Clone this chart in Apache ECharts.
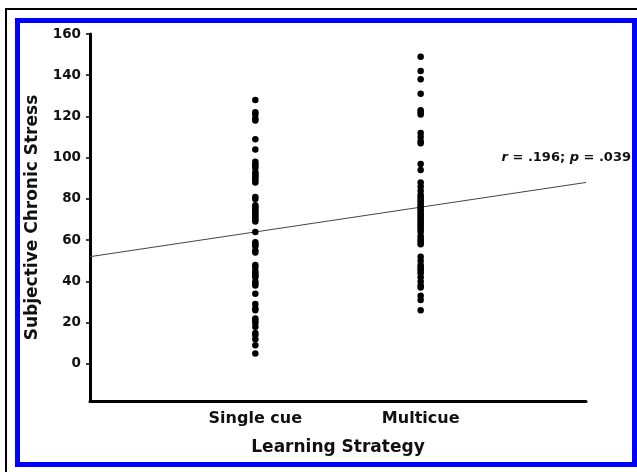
<!DOCTYPE html>
<html>
<head>
<meta charset="utf-8">
<script src="https://cdn.jsdelivr.net/npm/echarts@6/dist/echarts.min.js"></script>
<style>html,body{margin:0;padding:0;background:#fff;}#c{width:637px;height:472px;}</style>
</head>
<body>
<div id="c"></div>
<script>
var categories = ['Single cue', 'Multicue'];
var categoryPositions = [1, 2];
var yTicks = [0, 20, 40, 60, 80, 100, 120, 140, 160];
var singleCue = [128, 122, 121, 119, 118, 109, 104, 98, 97, 96, 95, 93, 92, 91, 90, 89, 88, 81, 80, 77, 76, 75, 74, 73, 72, 71, 70, 69, 64, 59, 58, 57, 55, 54, 48, 47, 45, 44, 43, 42, 40, 39, 38, 34, 29, 27, 26, 22, 21, 20, 18, 15, 14, 12, 9, 5];
var multicue = [149, 142, 138, 131, 123, 122, 121, 112, 110, 108, 107, 97, 94, 88, 86, 84, 82, 81, 80, 79, 78, 77, 76, 75, 74, 73, 72, 71, 70, 69, 68, 67, 66, 65, 64, 62, 61, 60, 59, 58, 52, 50, 48, 47, 46, 45, 44, 42, 40, 38, 37, 33, 31, 26];
var regressionX = [0, 3];
var regressionY = [52, 88];
var annotation = { r: '.196', p: '.039' };

var FONT = '"DejaVu Sans", sans-serif';
var scatterData = [];
singleCue.forEach(function (v) { scatterData.push([categoryPositions[0], v]); });
multicue.forEach(function (v) { scatterData.push([categoryPositions[1], v]); });
var lineData = regressionX.map(function (x, i) { return [x, regressionY[i]]; });

var chart = echarts.init(document.getElementById('c'), null, { renderer: 'canvas' });
chart.setOption({
  backgroundColor: '#ffffff',
  animation: false,
  grid: { left: 90, right: 51, top: 34, bottom: 71 },
  xAxis: {
    type: 'value', min: 0, max: 3,
    axisLine: { show: true, onZero: false, lineStyle: { color: '#000', width: 3 } },
    axisTick: { show: false },
    splitLine: { show: false },
    axisLabel: {
      customValues: categoryPositions,
      margin: 10,
      color: '#111', fontFamily: FONT, fontWeight: 'bold', fontSize: 16,
      formatter: function (v) { var i = categoryPositions.indexOf(v); return i >= 0 ? categories[i] : ''; }
    },
    name: 'Learning Strategy', nameLocation: 'middle', nameGap: 38,
    nameTextStyle: { color: '#111', fontFamily: FONT, fontWeight: 'bold', fontSize: 17 }
  },
  yAxis: {
    type: 'value', min: -18, max: 160,
    axisLine: { show: true, onZero: false, lineStyle: { color: '#000', width: 3 } },
    axisTick: { show: true, customValues: yTicks, length: 4, lineStyle: { color: '#000', width: 1.5 } },
    splitLine: { show: false },
    axisLabel: { customValues: yTicks, margin: 9, color: '#111', fontFamily: FONT, fontWeight: 'bold', fontSize: 13.5 },
    name: 'Subjective Chronic Stress', nameLocation: 'middle', nameGap: 49,
    nameTextStyle: { color: '#111', fontFamily: FONT, fontWeight: 'bold', fontSize: 17 }
  },
  series: [
    {
      type: 'line', data: lineData, symbol: 'none', silent: true,
      lineStyle: { color: '#444', width: 1 }, z: 1
    },
    {
      type: 'scatter', data: scatterData, symbol: 'circle', symbolSize: 6.5,
      itemStyle: { color: '#000', opacity: 1 }, z: 2
    }
  ],
  graphic: [
    { type: 'rect', shape: { x: 17.5, y: 20.5, width: 617, height: 444 }, style: { fill: 'none', stroke: '#0000ff', lineWidth: 5 }, z: 100 },
    { type: 'line', shape: { x1: 5, y1: 9, x2: 637, y2: 9 }, style: { stroke: '#000', lineWidth: 2 }, z: 100 },
    { type: 'line', shape: { x1: 6, y1: 8, x2: 6, y2: 472 }, style: { stroke: '#000', lineWidth: 2 }, z: 100 },
    {
      type: 'text', x: 631, y: 158, z: 100,
      style: {
        text: '{i|r}{n| = ' + annotation.r + '; }{i|p}{n| = ' + annotation.p + '}',
        align: 'right', verticalAlign: 'middle',
        rich: {
          i: { fontFamily: FONT, fontWeight: 'bold', fontStyle: 'italic', fontSize: 13, fill: '#111' },
          n: { fontFamily: FONT, fontWeight: 'bold', fontSize: 13, fill: '#111' }
        }
      }
    }
  ]
});
</script>
</body>
</html>
